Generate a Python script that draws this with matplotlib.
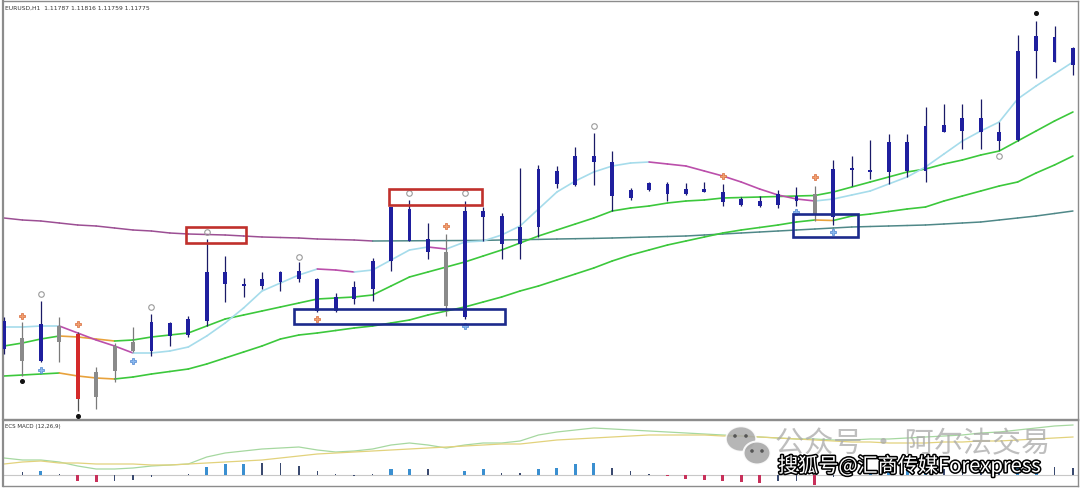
import numpy as np
import matplotlib
matplotlib.use("Agg")
import matplotlib.pyplot as plt
from matplotlib.patches import Rectangle, Ellipse, Circle
from matplotlib.collections import LineCollection
import matplotlib.patheffects as pe

plt.rcParams['font.family'] = ['Noto Sans CJK SC', 'DejaVu Sans']

# ---------------- data (chart level units) ----------------
opens  = [80, 91, 68, 103, 95, 57, 83, 87, 78, 93, 94, 108, 145, 143, 143, 147, 150, 118, 118, 130,
          140, 168, 188, 177, 177, 112, 212, 185, 185, 202, 245, 244, 267, 233, 231, 239, 235, 235, 237, 227,
          224, 223, 224, 228, 235, 212, 259, 257, 257, 258, 258, 297, 298, 297, 288, 289, 378, 367, 364]
highs  = [112, 107, 128, 112, 97, 62, 86, 102, 115, 107, 113, 190, 173, 151, 157, 158, 167, 151, 136, 148,
          171, 222, 229, 206, 195, 228, 222, 216, 261, 264, 263, 282, 296, 278, 241, 247, 247, 246, 247, 245,
          232, 233, 239, 242, 243, 269, 273, 289, 295, 295, 322, 325, 325, 330, 307, 394, 408, 403, 382]
lows   = [75, 53, 67, 67, 18, 20, 47, 77, 73, 83, 92, 103, 127, 132, 140, 138, 147, 117, 117, 125,
          128, 158, 188, 170, 113, 110, 188, 170, 170, 192, 241, 243, 244, 218, 229, 238, 228, 234, 237, 223,
          223, 222, 221, 223, 208, 204, 243, 250, 245, 252, 247, 297, 280, 280, 279, 288, 351, 367, 354]
closes = [108, 68, 105, 87, 30, 32, 58, 78, 107, 106, 110, 157, 157, 145, 150, 157, 158, 150, 132, 142,
          168, 222, 220, 190, 123, 218, 218, 213, 202, 260, 258, 273, 273, 267, 239, 246, 245, 240, 240, 237,
          230, 228, 235, 233, 215, 260, 261, 259, 287, 287, 303, 304, 311, 311, 297, 378, 393, 392, 381]
candle_kind = list("bgbgrgggbbbbbbbbbbbbbbbbgbbbbbbbbbbbbbbbbbbbgbbbbbbbbbbbbbb")

fast_ma = [102, 102, 103, 103, 96, 89, 83, 76, 76, 78, 82, 93, 106, 121, 138, 146, 154, 160, 159, 157,
           159, 169, 179, 182, 180, 187, 188, 194, 203, 220, 237, 248, 257, 263, 266, 267, 265, 263, 258, 253,
           247, 240, 234, 230, 228, 230, 234, 238, 245, 252, 262, 275, 288, 298, 307, 330, 343, 355, 367]
slow_ma = [211, 209, 208, 206, 204, 203, 201, 199, 198, 196, 195, 194.5, 194, 193, 192, 191.5, 191, 190, 189.5, 189,
           188.0, 188.1, 188.2, 188.3, 188.4, 188.5, 188.6, 189, 189.3, 189.6, 190, 190.3, 190.6, 191, 191.5, 192, 192.5, 193, 194, 195,
           196, 197, 198, 199, 200, 201, 202, 202.5, 203, 203.5, 204, 205, 206, 207, 209, 211, 213, 215.5, 218]
green_mid = [83, 86, 90, 93, 92, 90, 88, 89, 92, 94, 96, 103, 110, 114, 118, 122, 126, 130, 131, 132,
             134, 143, 152, 157, 162, 167, 173, 179, 186, 193, 199, 205, 211, 218, 221, 223, 226, 228, 229, 231,
             231.5, 232, 232.5, 233, 233.5, 237, 242, 247, 252, 257, 260, 265, 269, 274, 278, 288, 298, 308, 317]
green_slow = [53, 54, 55, 56, 53, 51, 50, 52, 55, 57.5, 60, 65, 71, 77, 83, 90, 94, 96, 98.5, 101,
              103, 106, 109, 114, 118, 122, 127, 132, 138, 143, 149, 155, 161, 168, 174, 179, 184, 188, 192, 196,
              199, 201.5, 204, 207, 209, 208.5, 213, 215, 217.5, 220, 222, 228, 233, 238, 243, 247, 256, 264, 273]

sell_signals_i = [1, 4, 17, 24, 39, 44]
sell_signals_v = [113, 105, 110, 203, 253, 252]
buy_signals_i = [2, 7, 25, 43, 45]
buy_signals_v = [59, 68, 103, 217, 197]
fractal_i = [2, 8, 11, 16, 22, 25, 32, 54]
fractal_v = [135, 122, 197, 172, 236, 236, 303, 273]
dot_i = [1, 4, 56]
dot_v = [48, 13, 416]

macd_hist = [0, 3, 4, 1, -5.5, -7, -6, -5, -1.5, 0, 1, 8, 11, 11, 12, 12, 9, 4, 1, -1,
             1, 6.5, 6.5, 6, 0.5, 4, 6, 2.5, 2, 6, 7.5, 11, 12, 7, 4, 1, -1, -3.5, -4.5, -6,
             -7, -8, -6, -6, -9.5, -2, 1, 2, 4, 5, 7, 6, 6, 5, 3, 8, 10, 8, 7]
macd_kind = list("DDBDRRDDDDDBBBDDDDDDDBBDDBBDDBBBBDDDRRRRRRDDRDDBBBBDDDDBBDD")
macd_main = [17, 15, 15, 13, 9, 6, 6, 7, 9, 10, 11, 18, 22, 24, 26, 27, 28, 25, 23, 24,
             26, 30, 32, 30, 27, 30, 32, 32, 34, 40, 43, 45, 47, 46, 45, 44, 43, 42, 41, 40,
             39, 38, 37, 36, 36, 35, 35, 36, 36, 37, 38, 39, 40, 42, 43, 45, 47, 49, 50]
macd_signal = [11, 13, 14, 12, 12, 11, 11, 11, 10, 10, 11, 12, 13, 14, 15, 17, 19, 21, 22, 23,
               24, 25, 26, 27, 28, 29, 30, 31, 31, 33, 35, 36, 37, 38, 39, 40, 40, 40, 40, 39,
               39, 38, 37, 36, 35, 34, 33, 33, 32, 32, 32, 33, 33, 34, 34, 35, 36, 37, 38]

# annotation boxes: (i_left, i_right, v_bottom, v_top, colour)
boxes = [(9.88, 13.13, 186, 202, '#c0302c'),
         (20.89, 25.94, 224, 240, '#c0302c'),
         (15.74, 27.18, 105, 120, '#1c2a8c'),
         (42.81, 46.34, 192, 215, '#1c2a8c')]

title_text = "EURUSD,H1  1.11787 1.11816 1.11759 1.11775"
macd_title = "ECS MACD (12,26,9)"
wm1 = "公众号 · 阿尔法交易"
wm2 = "搜狐号@汇商传媒Forexpress"

# ---------------- figure ----------------
W, H = 1080, 489
fig = plt.figure(figsize=(W / 100, H / 100), dpi=100)
fig.patch.set_facecolor('white')

def fx(px): return px / W
def fy(py): return 1 - py / H

ax = fig.add_axes([fx(3), fy(420), fx(1078) - fx(3), fy(2) - fy(420)])
axm = fig.add_axes([fx(3), fy(487), fx(1078) - fx(3), fy(421) - fy(487)])

n = len(opens)
x = np.arange(n)
xl = ((3 - 4) / 18.43, (1078 - 4) / 18.43)

body_col = {'b': '#1f1f9e', 'g': '#8a8a8a', 'r': '#d42a2a'}
wick_col = {'b': '#1a1a66', 'g': '#7a7a7a', 'r': '#505050'}


def slope_line(a, vals, up_col, down_col, lw, z):
    pts = np.column_stack([x, vals])
    segs = np.stack([pts[:-1], pts[1:]], axis=1)
    cols = [up_col if vals[k + 1] >= vals[k] else down_col for k in range(n - 1)]
    a.add_collection(LineCollection(segs, colors=cols, linewidths=lw, zorder=z,
                                    capstyle='round', joinstyle='round'))

slope_line(ax, slow_ma, '#4f8888', '#9c4f94', 1.1, 2)
slope_line(ax, green_slow, '#3cc83c', '#e8a23c', 1.2, 2)
slope_line(ax, green_mid, '#3cc83c', '#e8a23c', 1.2, 2)
slope_line(ax, fast_ma, '#a6dceb', '#bb4fab', 1.2, 2)

for i in range(n):
    k = candle_kind[i]
    ax.vlines(x[i], lows[i], highs[i], color=wick_col[k], lw=0.9, zorder=3)
    lo, hi = min(opens[i], closes[i]), max(opens[i], closes[i])
    h = max(hi - lo, 1.8)
    ax.bar(x[i], h, bottom=lo - (h - (hi - lo)) / 2, width=0.21, color=body_col[k],
           zorder=4, linewidth=0)

ax.plot(sell_signals_i, sell_signals_v, linestyle='none', marker='P', ms=4.2,
        mfc='#f0a070', mec='#d86a3a', mew=0.5, zorder=5)
ax.plot(buy_signals_i, buy_signals_v, linestyle='none', marker='P', ms=4.2,
        mfc='#8ab8ee', mec='#4f86d0', mew=0.5, zorder=5)
ax.plot(fractal_i, fractal_v, linestyle='none', marker='o', ms=4,
        mfc='none', mec='#9a9a9a', mew=0.8, zorder=5)
ax.plot(dot_i, dot_v, linestyle='none', marker='o', ms=2.6, color='#111111', zorder=5)

for (l, r, b, t, c) in boxes:
    ax.add_patch(Rectangle((l, b), r - l, t - b, fill=False, edgecolor=c, lw=1.9, zorder=6))

ax.set_xlim(*xl)
ax.set_ylim(10, 428)
ax.set_xticks([]); ax.set_yticks([])
for s in ax.spines.values():
    s.set_color('#8c8c8c'); s.set_linewidth(1.0)
ax.spines['left'].set_linewidth(1.6)
ax.text(0.002, 0.992, title_text, transform=ax.transAxes, fontsize=4.3, color='#333333',
        va='top', ha='left', family=['DejaVu Sans'])

# ---------------- MACD panel ----------------
hcol = {'B': '#3a8fd0', 'D': '#3a4a70', 'R': '#c8305a'}
hw = {'B': 0.17, 'D': 0.08, 'R': 0.17}
for i in range(n):
    k = macd_kind[i]
    axm.bar(x[i], macd_hist[i], width=hw[k], color=hcol[k], zorder=3, linewidth=0)
axm.axhline(0, color='#c8c8c8', lw=0.8, zorder=2)
axm.plot(x, macd_main, color='#a6d8a0', lw=0.9, zorder=2)
axm.plot(x, macd_signal, color='#e2d27c', lw=0.9, zorder=2)
axm.set_xlim(*xl)
axm.set_ylim(-11, 55)
axm.set_xticks([]); axm.set_yticks([])
for s in axm.spines.values():
    s.set_color('#8c8c8c'); s.set_linewidth(1.0)
axm.spines['left'].set_linewidth(1.6)
axm.text(0.002, 0.95, macd_title, transform=axm.transAxes, fontsize=4.0, color='#333333',
         va='top', ha='left', family=['DejaVu Sans'])

# ---------------- watermark overlay (pixel space) ----------------
ov = fig.add_axes([0, 0, 1, 1], facecolor='none')
ov.set_xlim(0, W); ov.set_ylim(H, 0); ov.axis('off')
ov.add_patch(Ellipse((741, 440), 30, 25, facecolor='#a9a9a9', edgecolor='white', lw=1.2, alpha=0.85, zorder=10))
ov.add_patch(Ellipse((757, 454), 27, 23, facecolor='#a9a9a9', edgecolor='white', lw=1.5, alpha=0.9, zorder=11))
for (cx, cy) in [(735, 437), (746, 437), (752, 452), (762, 452)]:
    ov.add_patch(Circle((cx, cy), 1.8, facecolor='#555555', edgecolor='none', zorder=12))
ov.text(775, 444, wm1, fontsize=21, color='#a8a8a8', alpha=0.75, va='center', ha='left', zorder=10)
ov.text(778, 467, wm2, fontsize=14.5, color='white', va='center', ha='left', zorder=13,
        path_effects=[pe.withStroke(linewidth=2.2, foreground='black')])

fig.savefig('out.png', dpi=100, facecolor='white')
